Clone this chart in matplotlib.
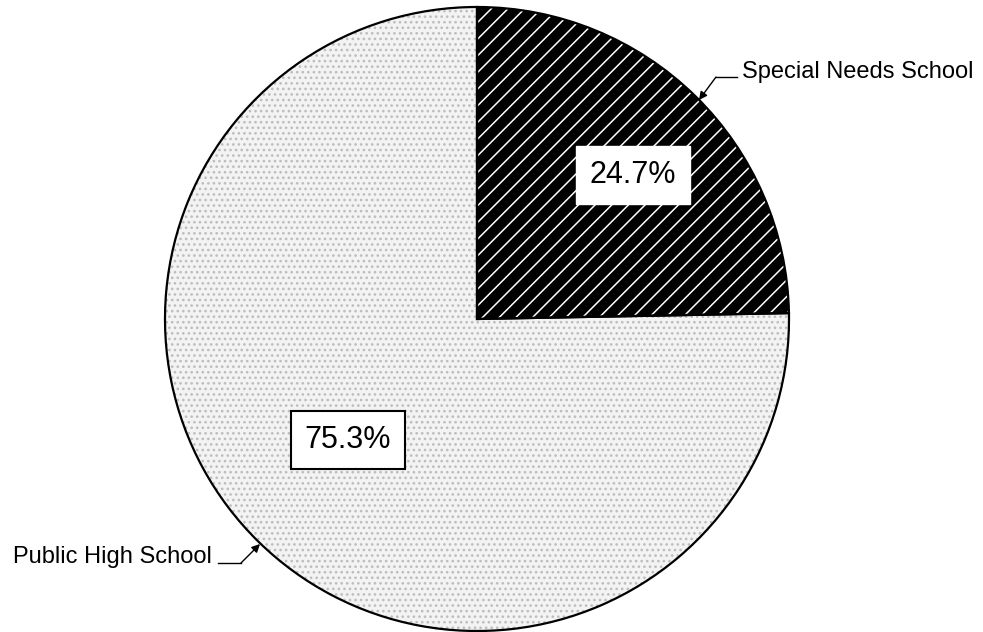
import numpy as np
import matplotlib.pyplot as plt

plt.rcParams['font.family'] = ['Liberation Sans', 'DejaVu Sans']
plt.rcParams['hatch.linewidth'] = 1.1

labels = ["Special Needs School", "Public High School"]
shares = [24.7, 75.3]
pct_text = ["24.7%", "75.3%"]

W, H = 983, 632


def py(y):
    # pixel row (from top) -> data y
    return H - y


fig = plt.figure(figsize=(W / 100, H / 100), dpi=100)
ax = fig.add_axes([0, 0, 1, 1])

cx, cy, r = 477, py(319), 312

# filled wedges with hatch / stipple
wedges, _ = ax.pie(shares, startangle=90, counterclock=False,
                   center=(cx, cy), radius=r, frame=True)
wedges[0].set_facecolor('black')
wedges[0].set_edgecolor('white')
wedges[0].set_linewidth(0)
wedges[0].set_hatch('//')
wedges[1].set_facecolor('#f3f3f3')
wedges[1].set_edgecolor('#bdbdbd')
wedges[1].set_linewidth(0)
wedges[1].set_hatch('...')

# outlines
ax.pie(shares, startangle=90, counterclock=False, center=(cx, cy), radius=r,
       frame=True, wedgeprops=dict(facecolor='none', edgecolor='black', linewidth=1.6))
ax.set_xlim(0, W)
ax.set_ylim(0, H)
ax.set_aspect('equal')
ax.axis('off')

# percentage boxes
ax.text(633, py(175), pct_text[0], fontsize=22, ha='center', va='center',
        bbox=dict(boxstyle='square,pad=0.45', fc='white', ec='white', lw=1))
ax.text(348, py(440), pct_text[1], fontsize=22, ha='center', va='center',
        bbox=dict(boxstyle='square,pad=0.45', fc='white', ec='black', lw=1.5))

# leader labels
ax.text(742, py(72), labels[0], fontsize=17, ha='left', va='center')
ax.plot([716, 737], [py(77), py(77)], color='black', lw=1)
ax.annotate('', xy=(699, py(100)), xytext=(716, py(77)),
            arrowprops=dict(arrowstyle='-|>', color='black', lw=1,
                            mutation_scale=12, shrinkA=0, shrinkB=0))

ax.text(212, py(557), labels[1], fontsize=17, ha='right', va='center')
ax.plot([218, 241], [py(563), py(563)], color='black', lw=1)
ax.annotate('', xy=(260, py(544)), xytext=(241, py(563)),
            arrowprops=dict(arrowstyle='-|>', color='black', lw=1,
                            mutation_scale=12, shrinkA=0, shrinkB=0))

plt.savefig('out.png', dpi=100)
